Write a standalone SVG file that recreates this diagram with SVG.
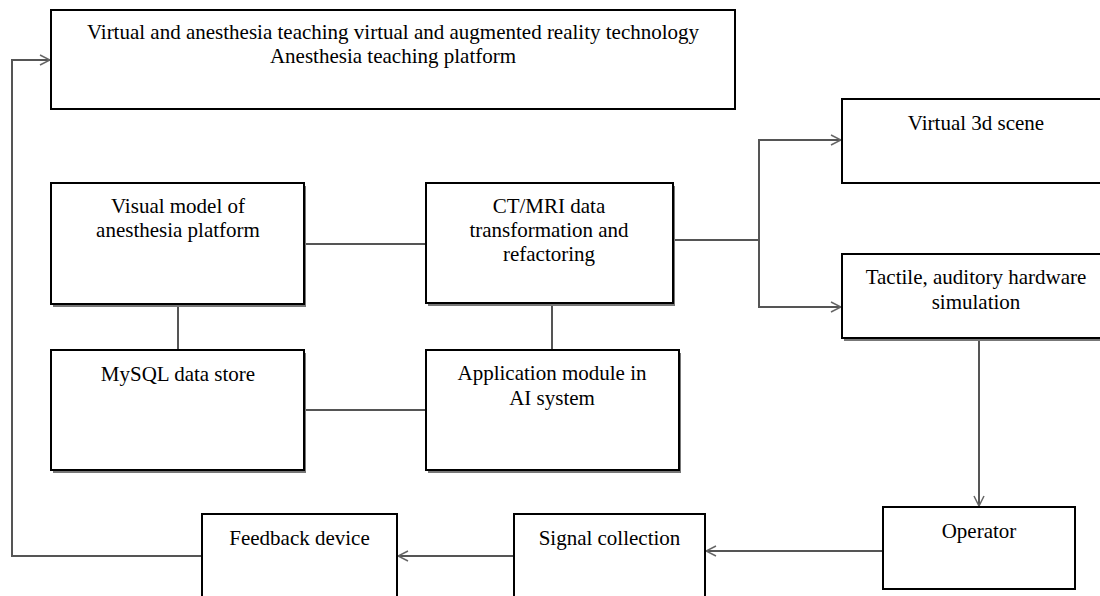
<svg xmlns="http://www.w3.org/2000/svg" width="1100" height="596" viewBox="0 0 1100 596">
<style>
.box{fill:#fff;stroke:#000;stroke-width:2}
.shadow{fill:#777;stroke:none}
.lbl{font-family:"Liberation Serif","Times New Roman",serif;font-size:21px;fill:#000;text-anchor:middle}
.con{fill:none;stroke:#555;stroke-width:2}
</style>
<defs>
<marker id="arr" viewBox="0 0 12 12" refX="11" refY="6" markerWidth="12" markerHeight="12" markerUnits="userSpaceOnUse" orient="auto">
<path d="M1,1 L11,6 L1,11" fill="none" stroke="#666" stroke-width="1.5"/>
</marker>
</defs>
<rect width="1100" height="596" fill="#fff"/>

<g id="connectors">
<polyline class="con" points="202,556 12,556 12,60 50,60" marker-end="url(#arr)"/>
<line class="con" x1="304" y1="244" x2="426" y2="244"/>
<line class="con" x1="178" y1="305" x2="178" y2="350"/>
<line class="con" x1="304" y1="410" x2="426" y2="410"/>
<line class="con" x1="552" y1="304" x2="552" y2="350"/>
<polyline class="con" points="673,240 759,240 759,140 841,140" marker-end="url(#arr)"/>
<polyline class="con" points="759,240 759,307 841,307" marker-end="url(#arr)"/>
<line class="con" x1="979" y1="339" x2="979" y2="506" marker-end="url(#arr)"/>
<line class="con" x1="883" y1="551" x2="706" y2="551" marker-end="url(#arr)"/>
<line class="con" x1="514" y1="556" x2="398" y2="556" marker-end="url(#arr)"/>
</g>

<g id="platform">
<rect class="box" x="51" y="10" width="684" height="99"/>
<text class="lbl" x="393" y="39">Virtual and anesthesia teaching virtual and augmented reality technology</text>
<text class="lbl" x="393" y="63">Anesthesia teaching platform</text>
</g>

<g id="visual-model">
<rect class="shadow" x="53" y="186" width="253" height="121"/>
<rect class="box" x="51" y="183" width="253" height="121"/>
<text class="lbl" x="178" y="213">Visual model of</text>
<text class="lbl" x="178" y="237">anesthesia platform</text>
</g>

<g id="ct-mri">
<rect class="shadow" x="428" y="186" width="247" height="120"/>
<rect class="box" x="426" y="183" width="247" height="120"/>
<text class="lbl" x="549" y="213">CT/MRI data</text>
<text class="lbl" x="549" y="237">transformation and</text>
<text class="lbl" x="549" y="261">refactoring</text>
</g>

<g id="mysql">
<rect class="shadow" x="53" y="353" width="253" height="120"/>
<rect class="box" x="51" y="350" width="253" height="120"/>
<text class="lbl" x="178" y="381">MySQL data store</text>
</g>

<g id="application">
<rect class="shadow" x="428" y="353" width="253" height="120"/>
<rect class="box" x="426" y="350" width="253" height="120"/>
<text class="lbl" x="552" y="380">Application module in</text>
<text class="lbl" x="552" y="405">AI system</text>
</g>

<g id="virtual-3d">
<rect class="box" x="842" y="99" width="270" height="84"/>
<text class="lbl" x="976" y="130">Virtual 3d scene</text>
</g>

<g id="tactile">
<rect class="shadow" x="844" y="257" width="270" height="84"/>
<rect class="box" x="842" y="254" width="270" height="84"/>
<text class="lbl" x="976" y="284">Tactile, auditory hardware</text>
<text class="lbl" x="976" y="309">simulation</text>
</g>

<g id="operator">
<rect class="box" x="883" y="507" width="192" height="82"/>
<text class="lbl" x="979" y="538">Operator</text>
</g>

<g id="signal-collection">
<rect class="box" x="514" y="514" width="191" height="90"/>
<text class="lbl" x="609.5" y="545">Signal collection</text>
</g>

<g id="feedback-device">
<rect class="box" x="202" y="514" width="195" height="90"/>
<text class="lbl" x="299.5" y="545">Feedback device</text>
</g>
</svg>
